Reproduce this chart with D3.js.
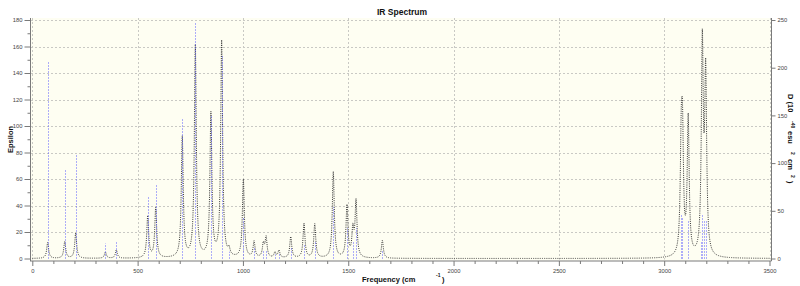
<!DOCTYPE html>
<html><head><meta charset="utf-8">
<script src="https://cdn.jsdelivr.net/npm/d3@7"></script>
<style>
body{margin:0;background:#fff;}
text{font-family:"Liberation Sans",Arial,Helvetica,sans-serif;}
</style>
</head><body>
<svg id="chart" width="800" height="286"></svg>
<script>
// ---- data ----
// blue sticks: frequency (cm^-1) and dipole strength D (right axis, 10^-40 esu^2 cm^2)
const stickFreq = [73,154,206,347,399,548,586,712,774,848,899,934,1002,1053,1097,1110,1152,1171,1227,1290,1341,1429,1494,1522,1537,1662,3080,3086,3114,3174,3180,3190,3200];
const stickD    = [207,93,108,16,17,65,77,147,247,150,213,7,42,11,8,9,4,5,11,14,18,54,32,17,32,9,46,42,40,17,46,40,40];
// black broadened spectrum: band centres and peak epsilon (left axis)
const bandFreq = [73,154,206,347,399,548,586,712,774,848,899,934,1002,1053,1097,1110,1152,1171,1227,1290,1341,1429,1494,1522,1537,1662,3081,3087,3114,3181,3197];
const bandEps  = [12,12.5,19,4.7,6.3,31.5,37.5,91,160,108,163,5,59,12,10,15,4,5.5,16,26,25.5,65,39,20,42,13.5,74,79,103,158,134];
const bandHalfWidth = 5.5;
// ticks / labels
const xTicks = [0,500,1000,1500,2000,2500,3000,3500];
const yLeftTicks = [0,20,40,60,80,100,120,140,160,180];
const yRightTicks = [0,50,100,150,200,250];
const titleText = "IR Spectrum";
const xLabel = "Frequency (cm";
const yLabel = "Epsilon";

// ---- layout ----
const svg = d3.select("#chart");
const x = d3.scaleLinear().domain([0,3500]).range([32.3,769.5]);
const yL = d3.scaleLinear().domain([0,180]).range([258.5,20]);
const yR = d3.scaleLinear().domain([0,250]).range([258.5,20]);
const pLeft = 30, pRight = 771, pTop = 18, pBottom = 260.5;
const axisColor = "#7a7a7a", labelColor = "#444";

svg.append("rect").attr("x",pLeft).attr("y",pTop).attr("width",pRight-pLeft).attr("height",pBottom-pTop)
  .attr("fill","#fefef2");

// grid
const gridG = svg.append("g").attr("stroke","#c9c9c4").attr("stroke-width",1).attr("stroke-dasharray","2,2");
yLeftTicks.filter(v=>v>0).forEach(v=>{
  gridG.append("line").attr("x1",pLeft+1).attr("x2",pRight).attr("y1",Math.round(yL(v))+0.5).attr("y2",Math.round(yL(v))+0.5);
});
xTicks.forEach(v=>{
  gridG.append("line").attr("x1",Math.round(x(v))+0.5).attr("x2",Math.round(x(v))+0.5).attr("y1",pTop).attr("y2",pBottom-1);
});

// axis lines
const ax = svg.append("g").attr("stroke",axisColor).attr("stroke-width",1);
ax.append("line").attr("x1",pLeft+0.5).attr("x2",pLeft+0.5).attr("y1",pTop).attr("y2",pBottom+0.5);
ax.append("line").attr("x1",pLeft).attr("x2",pRight+0.5).attr("y1",pBottom+0.5).attr("y2",pBottom+0.5);
ax.append("line").attr("x1",pRight+0.5).attr("x2",pRight+0.5).attr("y1",pTop).attr("y2",pBottom+0.5);

function drawAxis(g, axis){
  g.call(axis);
  g.select(".domain").remove();
  g.selectAll(".tick line").attr("stroke",axisColor);
  g.selectAll(".tick text").attr("fill",labelColor).attr("font-size","5.8px")
    .attr("font-family","Liberation Sans, Arial, sans-serif");
}
const yMinor = d3.range(10,180,20);
drawAxis(svg.append("g").attr("transform",`translate(${pLeft+0.5},0)`),
  d3.axisLeft(yL).tickValues(yLeftTicks).tickSize(6).tickPadding(2).tickFormat(d3.format("d")));
drawAxis(svg.append("g").attr("transform",`translate(${pLeft+0.5},0)`),
  d3.axisLeft(yL).tickValues(yMinor).tickSize(3).tickFormat(""));

const xMinor = d3.range(100,3500,100).filter(v=>v%500!==0);
drawAxis(svg.append("g").attr("transform",`translate(0,${pBottom+0.5})`),
  d3.axisBottom(x).tickValues(xTicks).tickSize(5).tickPadding(3).tickFormat(d3.format("d")));
drawAxis(svg.append("g").attr("transform",`translate(0,${pBottom+0.5})`),
  d3.axisBottom(x).tickValues(xMinor).tickSize(3).tickFormat(""));

drawAxis(svg.append("g").attr("transform",`translate(${pRight+0.5},0)`),
  d3.axisRight(yR).tickValues(yRightTicks).tickSize(4).tickPadding(2).tickFormat(d3.format("d")));

// broadened spectrum
const g2 = bandHalfWidth*bandHalfWidth;
const freqSamples = d3.range(0,3501,1);
const spec = freqSamples.map(f=>[f, d3.sum(bandFreq,(c,i)=>bandEps[i]*g2/((f-c)*(f-c)+g2))]);
svg.append("path").datum(spec)
  .attr("d", d3.line().x(d=>x(d[0])).y(d=>yL(d[1])))
  .attr("fill","none").attr("stroke","#333").attr("stroke-width",1).attr("stroke-dasharray","1,1.2");

// sticks
svg.append("g").selectAll("line").data(stickFreq).join("line")
  .attr("x1",d=>Math.round(x(d))+0.5).attr("x2",d=>Math.round(x(d))+0.5)
  .attr("y1",yR(0)).attr("y2",(d,i)=>yR(stickD[i]))
  .attr("stroke","#5c5cff").attr("stroke-width",1).attr("stroke-dasharray","1,2");

// title
svg.append("text").attr("x",402).attr("y",15).attr("text-anchor","middle")
  .attr("font-size","8.5px").attr("font-weight","bold").attr("fill","#111").text(titleText);

// x label
svg.append("text").attr("x",362).attr("y",282).attr("font-size","7.5px").attr("font-weight","bold").attr("fill","#111").text(xLabel);
svg.append("text").attr("x",436).attr("y",277).attr("font-size","5px").attr("font-weight","bold").attr("fill","#111").text("-1");
svg.append("text").attr("x",442).attr("y",282).attr("font-size","7.5px").attr("font-weight","bold").attr("fill","#111").text(")");

// left y label
svg.append("text").attr("transform","translate(12.7,139.5) rotate(-90)").attr("text-anchor","middle")
  .attr("font-size","7.5px").attr("font-weight","bold").attr("fill","#111").text(yLabel);

// right y label, pieces
const rPieces = [
  {t:"D (10", y:94, sup:false},
  {t:"-40", y:121, sup:true},
  {t:"esu", y:131, sup:false},
  {t:"2", y:152, sup:true},
  {t:"cm", y:159, sup:false},
  {t:"2", y:175, sup:true},
  {t:")", y:181, sup:false}
];
rPieces.forEach(p=>{
  svg.append("text").attr("transform",`translate(${p.sup?791:787.5},${p.y}) rotate(90)`)
    .attr("font-size",p.sup?"5px":"7.5px").attr("font-weight","bold").attr("fill","#111").text(p.t);
});
</script>
</body></html>
